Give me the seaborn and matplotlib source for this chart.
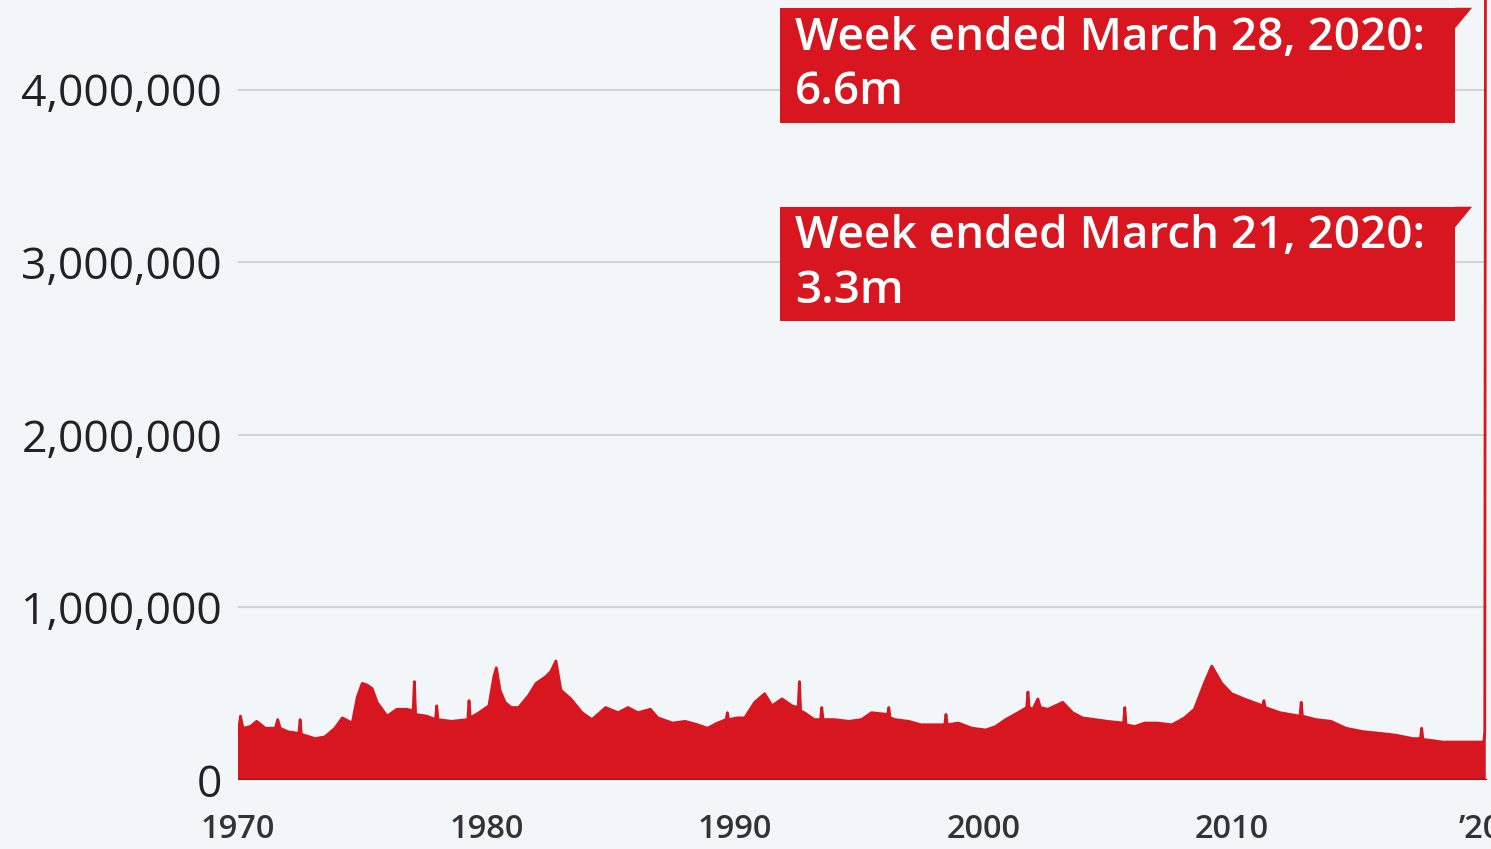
import numpy as np
import pandas as pd
import matplotlib
matplotlib.use('Agg')
import matplotlib.pyplot as plt
import seaborn as sns
from matplotlib.patches import Rectangle, Polygon
from matplotlib.ticker import FuncFormatter

# Initial weekly jobless claims (in thousands)
years = [1970.0, 1970.1, 1970.2, 1970.5, 1970.75, 1971.1, 1971.5, 1971.6, 1971.7, 1972.0,
         1972.45, 1972.5, 1972.55, 1973.1, 1973.5, 1973.9, 1974.2, 1974.6, 1974.8, 1975.0,
         1975.2, 1975.4, 1975.6, 1976.0, 1976.4, 1976.8, 1977.05, 1977.1, 1977.15, 1977.6,
         1977.95, 1978.0, 1978.05, 1978.6, 1979.25, 1979.3, 1979.35, 1979.7, 1980.1, 1980.3,
         1980.4, 1980.55, 1980.75, 1981.0, 1981.3, 1981.7, 1982.0, 1982.4, 1982.6, 1982.8,
         1983.0, 1983.4, 1983.85, 1984.25, 1984.8, 1985.3, 1985.7, 1986.1, 1986.6, 1986.9,
         1987.5, 1988.0, 1988.5, 1988.9, 1989.3, 1989.65, 1989.7, 1989.75, 1990.1, 1990.4,
         1990.8, 1991.2, 1991.5, 1991.9, 1992.3, 1992.55, 1992.6, 1992.65, 1992.8, 1993.2,
         1993.45, 1993.5, 1993.55, 1994.0, 1994.6, 1995.1, 1995.5, 1996.15, 1996.2, 1996.25,
         1996.45, 1997.0, 1997.5, 1998.1, 1998.45, 1998.5, 1998.55, 1999.0, 1999.55, 2000.1,
         2000.5, 2000.9, 2001.4, 2001.75, 2001.8, 2001.85, 2002.0, 2002.2, 2002.3, 2002.6,
         2003.2, 2003.6, 2004.0, 2004.5, 2005.0, 2005.65, 2005.7, 2005.75, 2006.1, 2006.5,
         2007.0, 2007.6, 2008.1, 2008.5, 2008.9, 2009.2, 2009.6, 2010.0, 2010.5, 2011.25,
         2011.3, 2011.35, 2011.95, 2012.75, 2012.8, 2012.85, 2013.4, 2014.0, 2014.6, 2015.3,
         2016.0, 2016.6, 2017.3, 2017.6, 2017.65, 2017.7, 2018.0, 2018.5, 2019.3, 2020.15,
         2020.19, 2020.21, 2020.23]
claims_k = [260, 370, 300, 310, 340, 300, 300, 350, 300, 280,
            270, 350, 265, 240, 250, 300, 360, 330, 480, 560,
            550, 530, 450, 370, 410, 410, 400, 570, 380, 370,
            350, 430, 350, 340, 350, 460, 360, 390, 430, 600,
            650, 520, 450, 420, 420, 490, 560, 600, 630, 690,
            520, 470, 390, 350, 420, 390, 420, 390, 410, 360,
            330, 340, 320, 300, 330, 350, 390, 350, 360, 360,
            450, 500, 430, 470, 430, 420, 570, 400, 390, 350,
            350, 420, 350, 350, 340, 350, 390, 380, 420, 360,
            350, 340, 320, 320, 320, 380, 320, 330, 300, 290,
            310, 350, 390, 420, 510, 420, 410, 470, 420, 410,
            450, 390, 360, 350, 340, 330, 420, 320, 310, 330,
            330, 320, 360, 410, 560, 660, 560, 500, 470, 430,
            460, 420, 390, 370, 450, 370, 350, 340, 300, 280,
            270, 260, 240, 240, 300, 235, 230, 220, 220, 220,
            280, 3300, 6600]

tick_years = [1970, 1980, 1990, 2000, 2010, 2020]
tick_labels = ['1970', '1980', '1990', '2000', '2010', '\u201920']
y_ticks = [0, 1_000_000, 2_000_000, 3_000_000, 4_000_000]

notes = ['Week ended March 28, 2020:\n6.6m', 'Week ended March 21, 2020:\n3.3m']
note_tops = [4_475_000, 3_322_000]

df = pd.DataFrame({'year': years, 'claims': np.array(claims_k) * 1000})

RED = '#d7161f'
BG = '#f3f6f9'

sns.set_theme(style='white')
plt.rcParams['font.family'] = ['Open Sans', 'DejaVu Sans']

fig = plt.figure(figsize=(14.91, 8.49), dpi=100, facecolor=BG)
ax = fig.add_axes([238 / 1491, 69 / 849, 1249 / 1491, 780 / 849])
ax.set_facecolor(BG)

ax.fill_between(df['year'], df['claims'], color=RED, lw=0, zorder=2)
sns.lineplot(data=df, x='year', y='claims', color=RED, lw=2, ax=ax, zorder=3)
ax.axhline(0, color='#a50f16', lw=2.5, zorder=4)

ax.set_xlim(1970, 2020.28)
ax.set_ylim(0, 4_520_000)

ax.set_yticks(y_ticks)
ax.yaxis.set_major_formatter(FuncFormatter(lambda v, p: f'{v:,.0f}'))
ax.yaxis.grid(True, color='#cfd4d8', lw=1.5)
ax.xaxis.grid(False)
ax.set_axisbelow(True)

ax.set_xticks(tick_years)
ax.set_xticklabels(tick_labels)
ax.tick_params(axis='y', length=0, pad=11.5, labelsize=32, labelcolor='#222222')
ax.tick_params(axis='x', length=16, width=2, color='#777777', direction='out',
               pad=8, labelsize=23.5, labelcolor='#333333')
for lab in ax.get_xticklabels():
    lab.set_fontweight('semibold')

for s in ax.spines.values():
    s.set_visible(False)
ax.set_xlabel('')
ax.set_ylabel('')
legend = ax.get_legend()
if legend:
    legend.remove()

# flag-shaped annotation boxes
x0, x1, tip = 1991.82, 2018.99, 2019.68
box_h = 665_000
for text, top in zip(notes, note_tops):
    ax.add_patch(Rectangle((x0, top - box_h), x1 - x0, box_h, facecolor=RED,
                           edgecolor='none', zorder=6, clip_on=False))
    ax.add_patch(Polygon([(x1, top), (tip, top), (x1, top - 120_000)], closed=True,
                         facecolor=RED, edgecolor='none', zorder=6, clip_on=False))
    ax.text(x0 + 0.6, top - 45_000, text, color='white', fontsize=33,
            fontweight='semibold', va='top', ha='left', linespacing=1.27, zorder=7)

fig.savefig('out.png', dpi=100, facecolor=BG)
